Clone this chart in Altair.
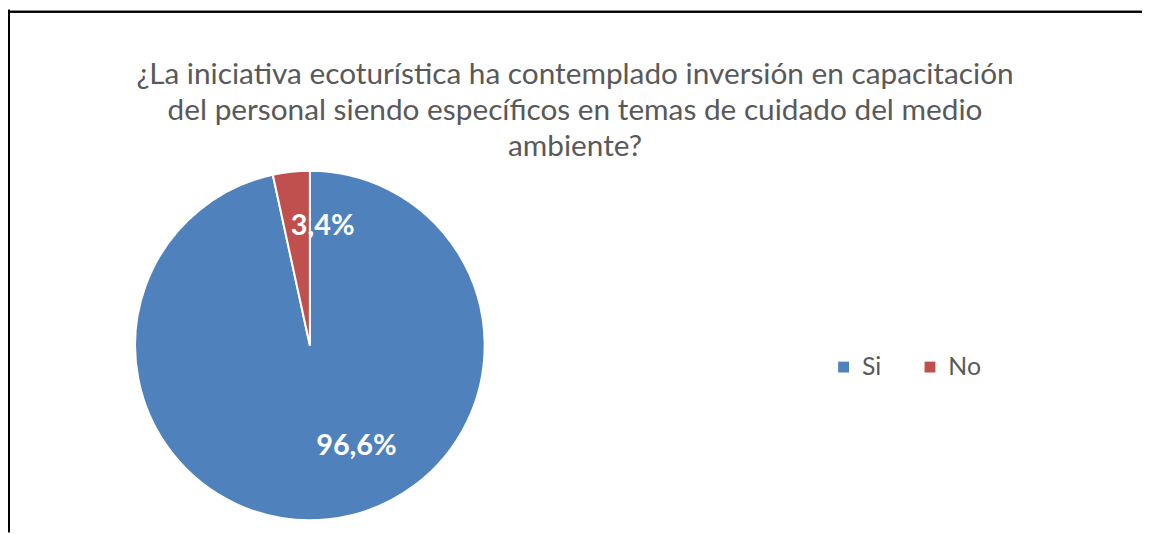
import altair as alt
import pandas as pd

categories = ["Si", "No"]
values = [96.6, 3.4]
colors = ["#4F81BD", "#C0504D"]
title_lines = [
    "¿La iniciativa ecoturística ha contemplado inversión en capacitación",
    "del personal siendo específicos en temas de cuidado del medio",
    "ambiente?",
]

df = pd.DataFrame({
    "cat": categories,
    "val": values,
    "idx": list(range(len(categories))),
    "label": [f"{v:.1f}%".replace(".", ",") for v in values],
})

FONT = "Lato"
CX, CY, R = 304, 338, 176

base = alt.Chart(df).encode(
    theta=alt.Theta("val:Q", stack=True),
    order=alt.Order("idx:Q"),
)

pie = base.mark_arc(outerRadius=R, stroke="white", strokeWidth=2).encode(
    x=alt.value(CX), y=alt.value(CY),
    color=alt.Color(
        "cat:N",
        scale=alt.Scale(domain=categories, range=colors),
        sort=categories,
        legend=alt.Legend(
            title=None, orient="none", direction="horizontal",
            legendX=829, legendY=347, symbolType="square", symbolSize=120,
            symbolStrokeWidth=0, labelFontSize=25, labelColor="#595959",
            labelFont=FONT, columnPadding=36, labelOffset=6,
        ),
    ),
)

lab_si_f = base.transform_filter(alt.datum.cat == "Si").mark_text(
    radius=102, font=FONT, fontSize=29, fontWeight="bold", color="white",
    dx=36, baseline="middle", align="center",
).encode(x=alt.value(CX), y=alt.value(CY), text="label:N")

lab_no_f = base.transform_filter(alt.datum.cat == "No").mark_text(
    radius=121, font=FONT, fontSize=29, fontWeight="bold", color="white",
    dx=0, baseline="middle", align="center",
).encode(x=alt.value(CX), y=alt.value(CY), text="label:N")

frame_top = alt.Chart(df).mark_rule(color="black", strokeWidth=2).encode(
    x=alt.value(0), x2=alt.value(1142), y=alt.value(2)
)
frame_left = alt.Chart(df).mark_rule(color="black", strokeWidth=2).encode(
    x=alt.value(1), y=alt.value(0), y2=alt.value(526)
)

chart = alt.layer(frame_top, frame_left, pie, lab_si_f, lab_no_f).properties(
    width=1142, height=526,
    autosize=alt.AutoSizeParams(type="none"),
    padding=0,
    title=alt.TitleParams(
        text=title_lines, anchor="middle", frame="group", orient="top",
        offset=-178, fontSize=30, font=FONT, fontWeight="normal",
        color="#595959", lineHeight=36, baseline="alphabetic",
    ),
).configure_view(stroke=None)

chart.save("out.html", embed_options={"renderer": "svg", "actions": False})
